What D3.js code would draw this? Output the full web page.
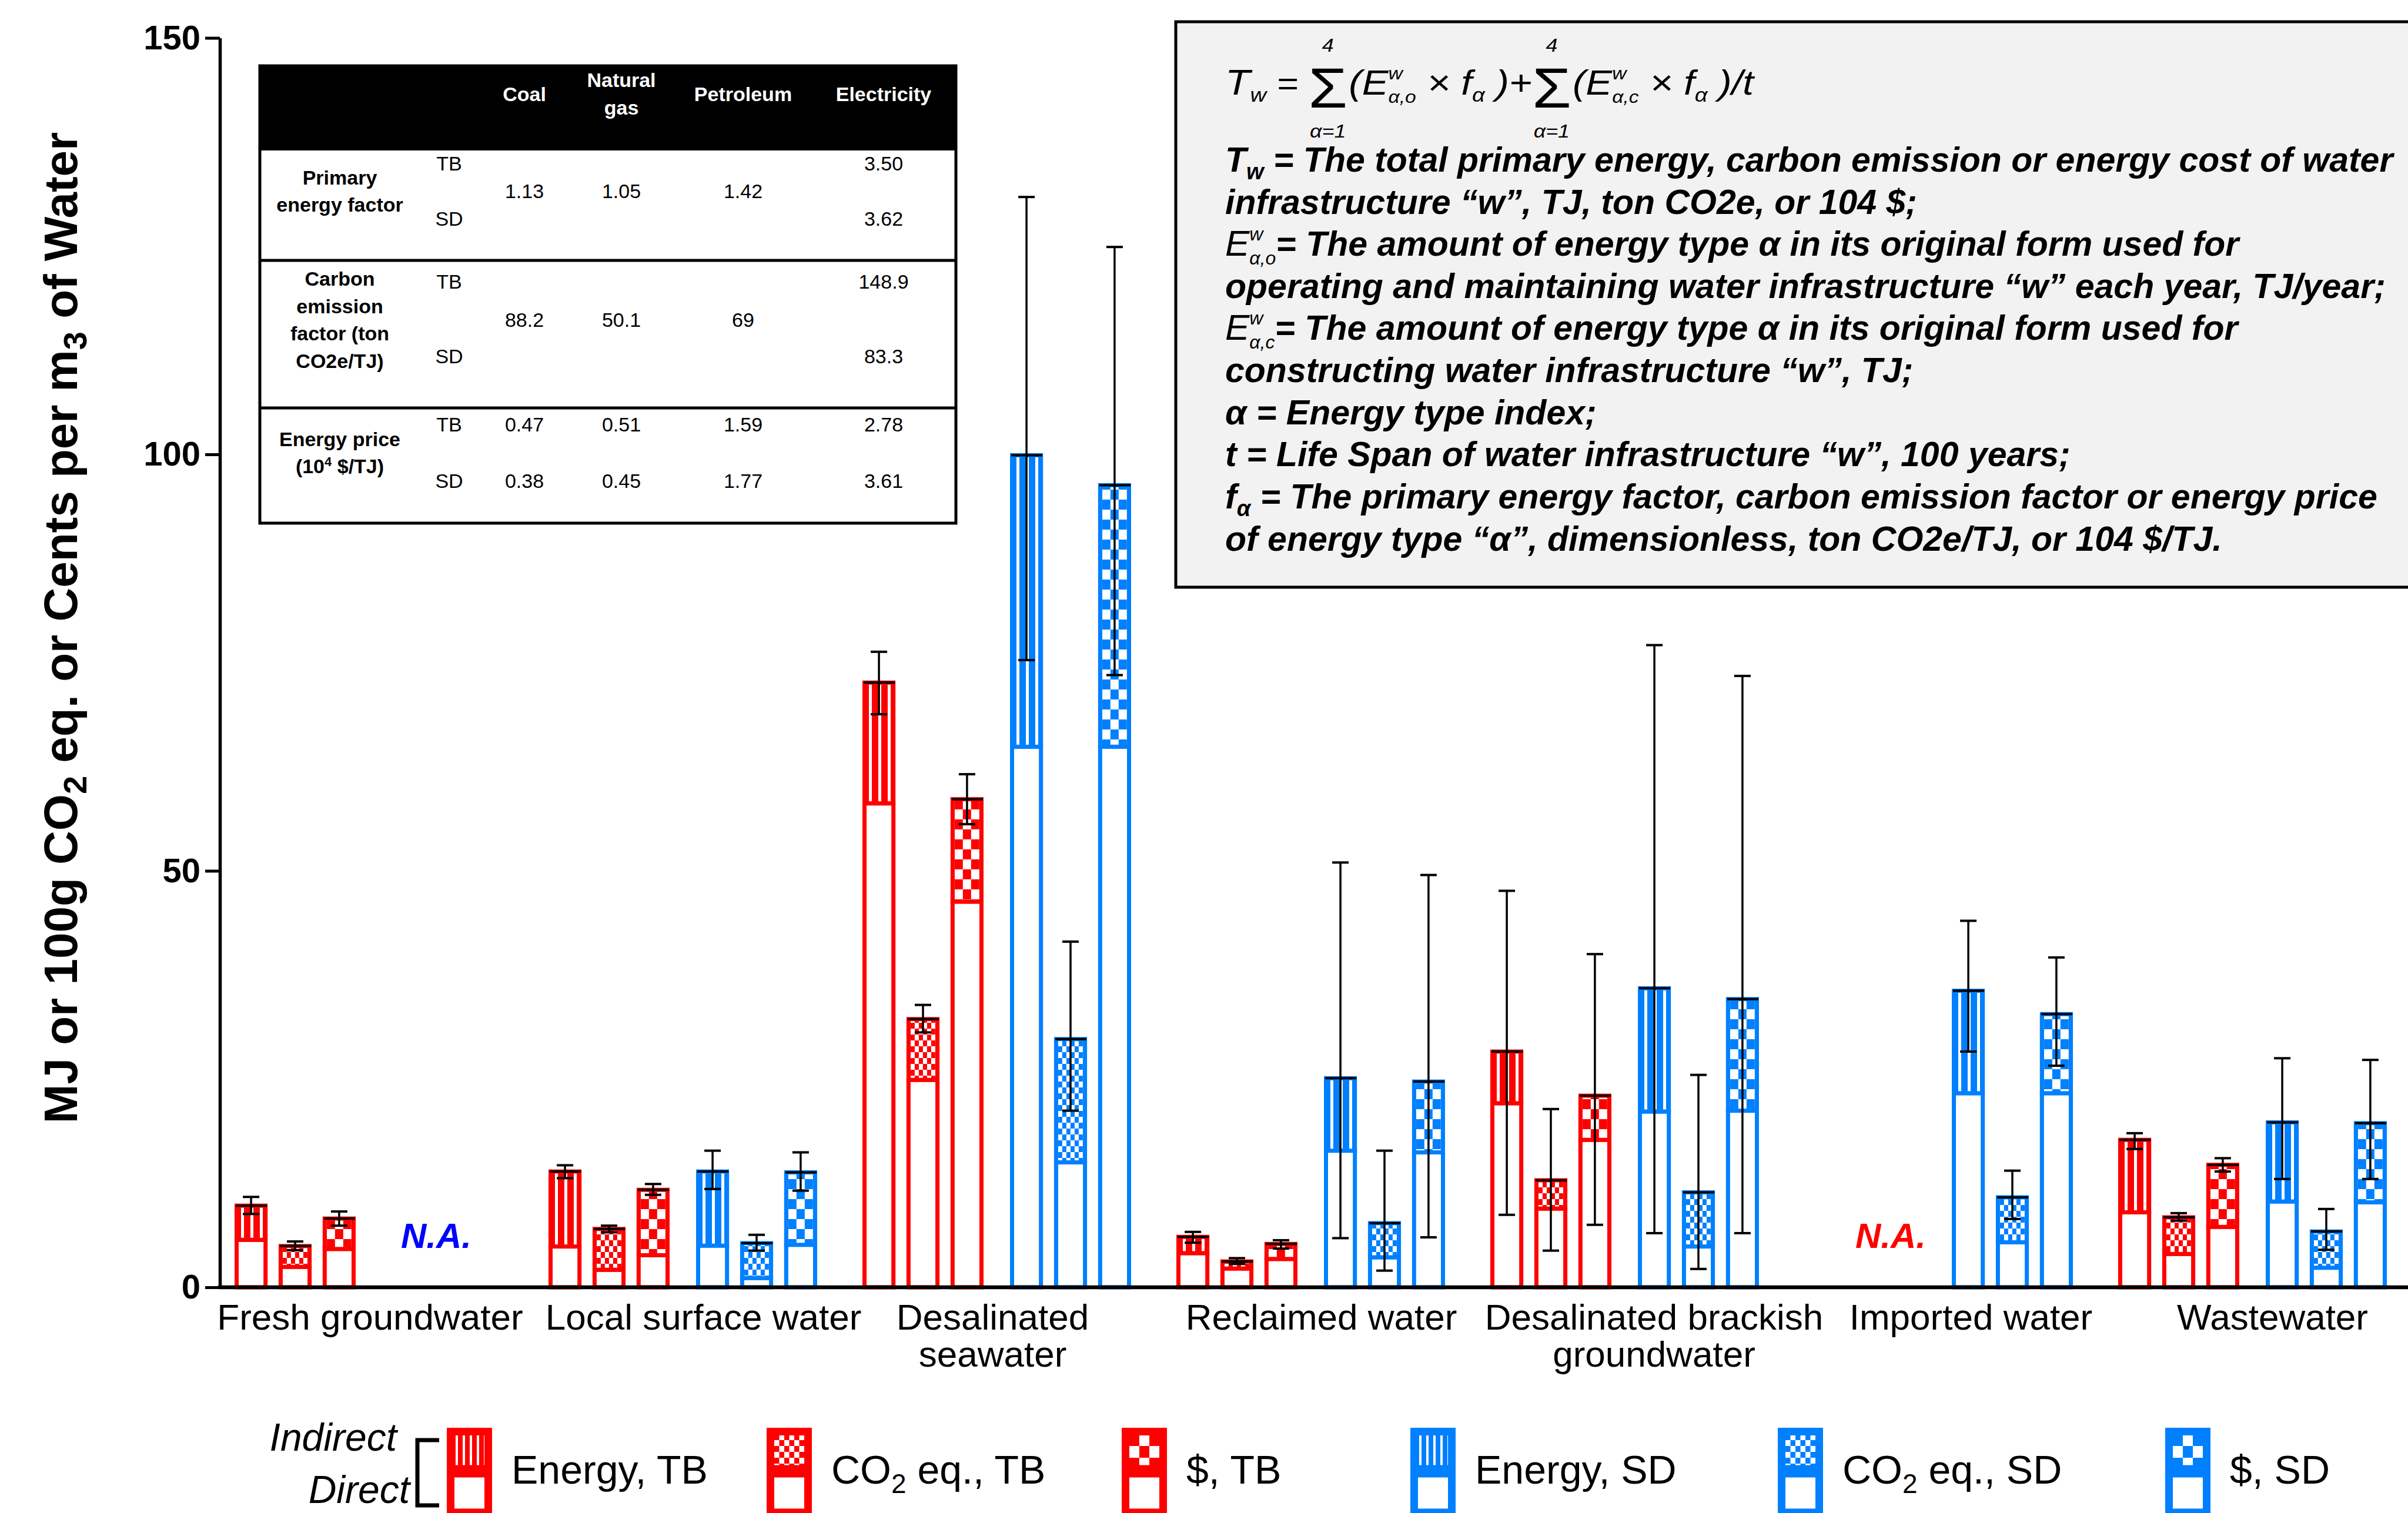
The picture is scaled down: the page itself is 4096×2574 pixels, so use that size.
<!DOCTYPE html>
<html>
<head>
<meta charset="utf-8">
<title>Primary energy, carbon emission and energy cost of water supply</title>
<script src="https://cdn.jsdelivr.net/npm/d3@7/dist/d3.min.js"></script>
<style>
  html, body { margin: 0; padding: 0; background: #ffffff; }
  svg { display: block; }
  text { font-family: "Liberation Sans", Arial, Helvetica, sans-serif; white-space: pre; fill: #000; }
</style>
</head>
<body>
<svg id="chart" width="4096" height="2574" viewBox="0 0 4096 2574"></svg>
<script>
// ---------------- data ----------------
const categories = ["Fresh groundwater", "Local surface water", "Desalinated seawater",
  "Reclaimed water", "Desalinated brackish groundwater", "Imported water", "Wastewater"];
const categoryLines = [["Fresh groundwater"], ["Local surface water"], ["Desalinated", "seawater"],
  ["Reclaimed water"], ["Desalinated brackish", "groundwater"], ["Imported water"], ["Wastewater"]];

// bar totals (direct + indirect); null = not available
const energyTB = [9.8, 13.9, 72.6, 6.05, 28.3, null, 17.7];
const co2TB    = [4.95, 7.0, 32.2, 3.1, 12.85, null, 8.4];
const costTB   = [8.25, 11.7, 58.6, 5.2, 23.0, null, 14.7];
const energySD = [null, 13.9, 99.9, 25.1, 35.9, 35.6, 19.8];
const co2SD    = [null, 5.3, 29.8, 7.7, 11.4, 10.8, 6.7];
const costSD   = [null, 13.8, 96.3, 24.7, 34.6, 32.8, 19.7];

// direct part of each bar
const energyTBDirect = [5.7, 4.9, 58.1, 4.1, 22.1, null, 9.0];
const co2TBDirect    = [2.45, 2.1, 24.9, 2.25, 9.45, null, 4.0];
const costTBDirect   = [4.6, 3.85, 46.3, 3.4, 17.7, null, 7.25];
const energySDDirect = [null, 5.0, 64.9, 16.4, 21.1, 23.3, 10.3];
const co2SDDirect    = [null, 1.1, 15.0, 3.6, 4.9, 5.4, 2.35];
const costSDDirect   = [null, 5.1, 64.9, 16.2, 21.2, 23.3, 10.2];

// error bar ends
const energyTBLow  = [8.8, 13.1, 68.8, 5.35, 8.7, null, 16.6];
const energyTBHigh = [10.85, 14.65, 76.3, 6.65, 47.6, null, 18.5];
const co2TBLow     = [4.45, 6.6, 30.6, 2.8, 4.4, null, 8.0];
const co2TBHigh    = [5.5, 7.4, 33.9, 3.5, 21.4, null, 8.9];
const costTBLow    = [7.4, 11.1, 55.6, 4.65, 7.5, null, 13.9];
const costTBHigh   = [9.1, 12.4, 61.6, 5.65, 40.0, null, 15.5];
const energySDLow  = [null, 11.8, 75.3, 5.9, 6.5, 28.3, 13.0];
const energySDHigh = [null, 16.4, 130.9, 51.0, 77.1, 44.0, 27.5];
const co2SDLow     = [null, 4.4, 21.2, 2.0, 2.2, 8.2, 4.5];
const co2SDHigh    = [null, 6.3, 41.5, 16.4, 25.5, 14.0, 9.4];
const costSDLow    = [null, 11.6, 73.5, 6.0, 6.5, 26.6, 13.0];
const costSDHigh   = [null, 16.2, 124.9, 49.5, 73.4, 39.6, 27.3];

const yTicks = [0, 50, 100, 150];

// factor table
const tableColumns = [["Coal"], ["Natural", "gas"], ["Petroleum"], ["Electricity"]];
const tableRowLabels = [["Primary", "energy factor"], ["Carbon", "emission", "factor (ton", "CO2e/TJ)"], ["Energy price", "(10^4 $/TJ)"]];
const primaryFactorTB = ["1.13", "1.05", "1.42", "3.50"];
const primaryFactorSD = ["1.13", "1.05", "1.42", "3.62"];
const carbonFactorTB  = ["88.2", "50.1", "69", "148.9"];
const carbonFactorSD  = ["88.2", "50.1", "69", "83.3"];
const energyPriceTB   = ["0.47", "0.51", "1.59", "2.78"];
const energyPriceSD   = ["0.38", "0.45", "1.77", "3.61"];

const legendLabels = [
  [{ t: "Energy, TB" }],
  [{ t: "CO" }, { t: "2", sub: true }, { t: " eq., TB" }],
  [{ t: "$, TB" }],
  [{ t: "Energy, SD" }],
  [{ t: "CO" }, { t: "2", sub: true }, { t: " eq., SD" }],
  [{ t: "$, SD" }]
];

// ---------------- setup ----------------
const RED = "#ff0000", BLUE = "#0080ff";
const svg = d3.select("#chart");
const defs = svg.append("defs");

const y = d3.scaleLinear().domain([0, 150]).range([2190, 64.5]);
const axisX = 374;
const xGroup = d3.scaleBand().domain(categories).range([399, 399 + 7 * 534]).paddingInner(0).paddingOuter(0).align(0);
const xSlot = d3.scaleBand().domain([0, 1, 2]).range([0, 206]).paddingInner(0.25).paddingOuter(0);
const clusterOffset = { TB: 0, SD: 251 };
const barW = xSlot.bandwidth();
const barStroke = 7;

const series = [
  { total: energyTB, direct: energyTBDirect, low: energyTBLow, high: energyTBHigh, source: "TB", kind: "stripes", slot: 0, color: RED },
  { total: co2TB,    direct: co2TBDirect,    low: co2TBLow,    high: co2TBHigh,    source: "TB", kind: "fine",    slot: 1, color: RED },
  { total: costTB,   direct: costTBDirect,   low: costTBLow,   high: costTBHigh,   source: "TB", kind: "coarse",  slot: 2, color: RED },
  { total: energySD, direct: energySDDirect, low: energySDLow, high: energySDHigh, source: "SD", kind: "stripes", slot: 0, color: BLUE },
  { total: co2SD,    direct: co2SDDirect,    low: co2SDLow,    high: co2SDHigh,    source: "SD", kind: "fine",    slot: 1, color: BLUE },
  { total: costSD,   direct: costSDDirect,   low: costSDLow,   high: costSDHigh,   source: "SD", kind: "coarse",  slot: 2, color: BLUE }
];

// ---------------- fill patterns ----------------
function stripePattern(id, color, period, white, offset) {
  const p = defs.append("pattern").attr("id", id).attr("patternUnits", "userSpaceOnUse")
    .attr("width", period).attr("height", 20).attr("x", offset).attr("y", 0);
  p.append("rect").attr("width", period).attr("height", 20).attr("fill", color);
  p.append("rect").attr("width", white).attr("height", 20).attr("fill", "#ffffff");
}
function checkerPattern(id, color, cw, ch, ox) {
  const p = defs.append("pattern").attr("id", id).attr("patternUnits", "userSpaceOnUse")
    .attr("width", 2 * cw).attr("height", 2 * ch).attr("x", ox).attr("y", 0);
  p.append("rect").attr("width", 2 * cw).attr("height", 2 * ch).attr("fill", "#ffffff");
  p.append("rect").attr("width", cw).attr("height", ch).attr("fill", color);
  p.append("rect").attr("x", cw).attr("y", ch).attr("width", cw).attr("height", ch).attr("fill", color);
}
[["red", RED], ["blue", BLUE]].forEach(([n, c]) => {
  stripePattern(`stripes-${n}`, c, 16, 5, 11);
  checkerPattern(`fine-${n}`, c, 7, 10, 7);
  checkerPattern(`coarse-${n}`, c, 14, 17, 7);
  stripePattern(`lg-stripes-${n}`, c, 12, 4, 15);
  checkerPattern(`lg-fine-${n}`, c, 8.5, 10, 13);
  checkerPattern(`lg-coarse-${n}`, c, 17, 20, 13);
});
const colorName = c => (c === RED ? "red" : "blue");

// ---------------- y axis ----------------
const yAxis = d3.axisLeft(y).tickValues(yTicks).tickSize(25).tickSizeOuter(0).tickPadding(8);
const ya = svg.append("g").attr("transform", `translate(${axisX},0)`).call(yAxis)
  .attr("font-family", null).attr("font-size", null);
ya.select(".domain").attr("stroke-width", 5.5).attr("stroke", "#000");
ya.selectAll(".tick line").attr("stroke-width", 5).attr("stroke", "#000");
ya.selectAll(".tick text").style("font-size", "58px").style("font-weight", "bold").attr("fill", "#000");

// y axis title
const yTitle = svg.append("text")
  .attr("transform", "translate(131,1068) rotate(-90)")
  .attr("text-anchor", "middle")
  .style("font-size", "80px").style("font-weight", "bold");
yTitle.append("tspan").text("MJ or 100g CO");
yTitle.append("tspan").attr("dy", 16).style("font-size", "56px").text("2");
yTitle.append("tspan").attr("dy", -16).text(" eq. or Cents per m");
yTitle.append("tspan").attr("dy", 16).style("font-size", "56px").text("3");
yTitle.append("tspan").attr("dy", -16).text(" of Water");

// ---------------- bars ----------------
const barLayer = svg.append("g");
const errLayer = svg.append("g");
series.forEach(s => {
  categories.forEach((cat, i) => {
    const total = s.total[i];
    if (total == null) return;
    const bx = xGroup(cat) + clusterOffset[s.source] + xSlot(s.slot);
    const g = barLayer.append("g").attr("transform", `translate(${bx},0)`);
    g.append("rect")
      .attr("x", barStroke / 2).attr("width", barW - barStroke)
      .attr("y", y(s.direct[i])).attr("height", y(0) - y(s.direct[i]))
      .attr("fill", "#ffffff").attr("stroke", s.color).attr("stroke-width", barStroke);
    g.append("rect")
      .attr("x", barStroke / 2).attr("width", barW - barStroke)
      .attr("y", y(total)).attr("height", y(s.direct[i]) - y(total))
      .attr("fill", `url(#${s.kind}-${colorName(s.color)})`)
      .attr("stroke", s.color).attr("stroke-width", barStroke);

    const cx = bx + barW / 2;
    const e = errLayer.append("g").attr("stroke", "#000");
    e.append("line").attr("x1", bx + 2).attr("x2", bx + barW - 1)
      .attr("y1", y(total)).attr("y2", y(total)).attr("stroke-width", 4);
    e.append("line").attr("x1", cx).attr("x2", cx)
      .attr("y1", y(s.high[i])).attr("y2", y(s.low[i])).attr("stroke-width", 3.5);
    [s.high[i], s.low[i]].forEach(v => {
      e.append("line").attr("x1", cx - 14).attr("x2", cx + 14)
        .attr("y1", y(v)).attr("y2", y(v)).attr("stroke-width", 4);
    });
  });
});

// x axis line
svg.append("line").attr("x1", axisX - 2.75).attr("x2", 4096)
  .attr("y1", y(0)).attr("y2", y(0)).attr("stroke", "#000").attr("stroke-width", 6.5);

// category labels
const labelNudge = [2, 35, -7, 18, 50, 55, 34];
const groupCenter = (clusterOffset.SD + xSlot.range()[1]) / 2;
categoryLines.forEach((lines, i) => {
  const cx = xGroup(categories[i]) + groupCenter + labelNudge[i];
  lines.forEach((ln, j) => {
    svg.append("text").attr("x", cx).attr("y", 2262 + j * 63)
      .attr("text-anchor", "middle").style("font-size", "62px").text(ln);
  });
});

// N.A. markers for missing clusters
const naNudge = { TB: 44, SD: -11 };
categories.forEach((cat, i) => {
  ["TB", "SD"].forEach(src => {
    const missing = series.filter(s => s.source === src).every(s => s.total[i] == null);
    if (!missing) return;
    const cx = xGroup(cat) + clusterOffset[src] + xSlot.range()[1] / 2 + naNudge[src];
    svg.append("text").attr("x", cx).attr("y", 2123).attr("text-anchor", "middle")
      .style("font-size", "60px").style("font-weight", "bold").style("font-style", "italic")
      .style("fill", src === "TB" ? "#ff0000" : "#0000ff").text("N.A.");
  });
});

// ---------------- factor table ----------------
const tbl = svg.append("g");
const T = { x: 442, y: 112, w: 1184, h: 778, head: 144 };
tbl.append("rect").attr("x", T.x).attr("y", T.y).attr("width", T.w).attr("height", T.head).attr("fill", "#000");
tbl.append("rect").attr("x", T.x).attr("y", T.y).attr("width", T.w).attr("height", T.h)
  .attr("fill", "none").attr("stroke", "#000").attr("stroke-width", 5);
[443, 694].forEach(yy => tbl.append("line").attr("x1", T.x).attr("x2", T.x + T.w)
  .attr("y1", yy).attr("y2", yy).attr("stroke", "#000").attr("stroke-width", 5));
const colX = [892, 1057, 1264, 1503];
const labelX = 578, tagX = 764;
tableColumns.forEach((lines, c) => {
  lines.forEach((ln, j) => {
    tbl.append("text").attr("x", colX[c]).attr("y", 160 + (j - (lines.length - 1) / 2) * 47)
      .attr("dy", "0.35em").attr("text-anchor", "middle")
      .style("font-size", "34px").style("font-weight", "bold").style("fill", "#ffffff").text(ln);
  });
});
const rowGeom = [{ tb: 278, mid: 325, sd: 372 }, { tb: 479, mid: 544, sd: 606 }, { tb: 722, mid: 770, sd: 818 }];
const rowValues = [[primaryFactorTB, primaryFactorSD], [carbonFactorTB, carbonFactorSD], [energyPriceTB, energyPriceSD]];
tableRowLabels.forEach((lines, r) => {
  const g = rowGeom[r];
  lines.forEach((ln, j) => {
    const t = tbl.append("text").attr("x", labelX).attr("y", g.mid + (j - (lines.length - 1) / 2) * 46.5)
      .attr("dy", "0.35em").attr("text-anchor", "middle")
      .style("font-size", "34px").style("font-weight", "bold");
    const sup = ln.indexOf("^");
    if (sup >= 0) {
      t.append("tspan").text(ln.slice(0, sup));
      t.append("tspan").attr("dy", -12).style("font-size", "22px").text(ln.slice(sup + 1, sup + 2));
      t.append("tspan").attr("dy", 12).text(ln.slice(sup + 2));
    } else t.text(ln);
  });
  [["TB", g.tb], ["SD", g.sd]].forEach(([tag, yy]) => {
    tbl.append("text").attr("x", tagX).attr("y", yy).attr("dy", "0.35em").attr("text-anchor", "middle")
      .style("font-size", "34px").text(tag);
  });
  const [tbv, sdv] = rowValues[r];
  colX.forEach((cx, c) => {
    const cell = (txt, yy) => tbl.append("text").attr("x", cx).attr("y", yy).attr("dy", "0.35em")
      .attr("text-anchor", "middle").style("font-size", "34px").text(txt);
    if (tbv[c] === sdv[c]) cell(tbv[c], g.mid);
    else { cell(tbv[c], g.tb); cell(sdv[c], g.sd); }
  });
});

// ---------------- formula box ----------------
const fb = svg.append("g");
fb.append("rect").attr("x", 2000).attr("y", 37).attr("width", 2300).attr("height", 962)
  .attr("fill", "#f2f2f2").attr("stroke", "#000").attr("stroke-width", 5);

function run(g, x, yb, pieces, base) {
  let cx = x;
  const mk = (t, px, py, o) => g.append("text").attr("x", px).attr("y", py)
    .attr("text-anchor", o.anchor || "start")
    .style("font-size", (o.size || base.size) + "px")
    .style("font-weight", (o.bold ?? base.bold) ? "bold" : "normal")
    .style("font-style", (o.italic ?? base.italic) ? "italic" : "normal")
    .text(t);
  pieces.forEach(p => {
    if (p.op) {
      const w = mk(p.op, cx, yb + p.dy, p).node().getComputedTextLength();
      const mid = cx + w / 2;
      mk(p.top, mid, yb + p.topDy, Object.assign({}, p.lim, { anchor: "middle" }));
      mk(p.bottom, mid, yb + p.botDy, Object.assign({}, p.lim, { anchor: "middle" }));
      cx += w + (p.gap || 0);
    } else if (p.stack) {
      let w = 0;
      p.stack.forEach(s => { w = Math.max(w, mk(s.t, cx, yb + s.dy, s).node().getComputedTextLength()); });
      cx += w + (p.gap || 0);
    } else {
      cx += mk(p.t, cx, yb + (p.dy || 0), p).node().getComputedTextLength() + (p.gap || 0);
    }
  });
  return cx;
}

const textX = 2084;
const sigma = (top, bottom) => ({ op: "Σ", size: 96, italic: false, dy: 22, top, bottom, topDy: -73, botDy: 73, lim: { size: 32 }, gap: 2 });
const formulaG = fb.append("g");
const fEnd = run(formulaG, textX, 161, [
  { t: "T", size: 62 }, { t: "w", size: 34, dy: 12 }, { t: " = ", size: 56 },
  sigma("4", "α=1"),
  { t: "(E" }, { stack: [{ t: "w", size: 30, dy: -26 }, { t: "α,o", size: 30, dy: 14 }] },
  { t: " × f" }, { t: "α", size: 34, dy: 12 }, { t: " )+" },
  sigma("4", "α=1"),
  { t: "(E" }, { stack: [{ t: "w", size: 30, dy: -26 }, { t: "α,c", size: 30, dy: 14 }] },
  { t: " × f" }, { t: "α", size: 34, dy: 12 }, { t: " )/t" }
], { size: 60, italic: true, bold: false });
const fScale = (2983 - textX) / (fEnd - textX);
formulaG.attr("transform", `translate(${textX},0) scale(${fScale},1) translate(${-textX},0)`);

const lineBase = { size: 59, italic: true, bold: true };
const lineYs = [292, 364, 435, 507, 578, 650, 722, 793, 865, 937];
const bodyLines = [
  [{ t: "T" }, { t: "w", size: 38, dy: 13 }, { t: " = The total primary energy, carbon emission or energy cost of water" }],
  [{ t: "infrastructure “w”, TJ, ton CO2e, or 104 $;" }],
  [{ t: "E", bold: false, size: 62 }, { stack: [{ t: "w", size: 32, dy: -26, bold: false }, { t: "α,o", size: 32, dy: 15, bold: false }] },
   { t: "= The amount of energy type α in its original form used for" }],
  [{ t: "operating and maintaining water infrastructure “w” each year, TJ/year;" }],
  [{ t: "E", bold: false, size: 62 }, { stack: [{ t: "w", size: 32, dy: -26, bold: false }, { t: "α,c", size: 32, dy: 15, bold: false }] },
   { t: "= The amount of energy type α in its original form used for" }],
  [{ t: "constructing water infrastructure “w”, TJ;" }],
  [{ t: "α = Energy type index;" }],
  [{ t: "t = Life Span of water infrastructure “w”, 100 years;" }],
  [{ t: "f" }, { t: "α", size: 38, dy: 13 }, { t: " = The primary energy factor, carbon emission factor or energy price" }],
  [{ t: "of energy type “α”, dimensionless, ton CO2e/TJ, or 104 $/TJ." }]
];
bodyLines.forEach((pieces, k) => run(fb, textX, lineYs[k], pieces, lineBase));

// ---------------- legend ----------------
const lg = svg.append("g");
lg.append("text").attr("x", 675).attr("y", 2468).attr("text-anchor", "end")
  .style("font-size", "66px").style("font-style", "italic").text("Indirect");
lg.append("text").attr("x", 697).attr("y", 2557).attr("text-anchor", "end")
  .style("font-size", "66px").style("font-style", "italic").text("Direct");
lg.append("path").attr("d", "M747,2450H710V2561H747").attr("fill", "none")
  .attr("stroke", "#000").attr("stroke-width", 7);

const legendX = [760, 1304, 1908, 2399, 3024, 3683];
const iconW = 77, iconStroke = 13;
series.forEach((s, k) => {
  const g = lg.append("g").attr("transform", `translate(${legendX[k]},0)`);
  g.append("rect").attr("x", iconStroke / 2).attr("y", 2435.5).attr("width", iconW - iconStroke).attr("height", 63.5)
    .attr("fill", `url(#lg-${s.kind}-${colorName(s.color)})`).attr("stroke", s.color).attr("stroke-width", iconStroke);
  g.append("rect").attr("x", iconStroke / 2).attr("y", 2507).attr("width", iconW - iconStroke).attr("height", 66)
    .attr("fill", "#ffffff").attr("stroke", s.color).attr("stroke-width", iconStroke);
  const t = g.append("text").attr("x", 110).attr("y", 2524).style("font-size", "68px");
  let prevSub = false;
  legendLabels[k].forEach(part => {
    const ts = t.append("tspan").text(part.t);
    if (part.sub) ts.attr("dy", 16).style("font-size", "46px");
    else if (prevSub) ts.attr("dy", -16);
    prevSub = !!part.sub;
  });
});
</script>
</body>
</html>
